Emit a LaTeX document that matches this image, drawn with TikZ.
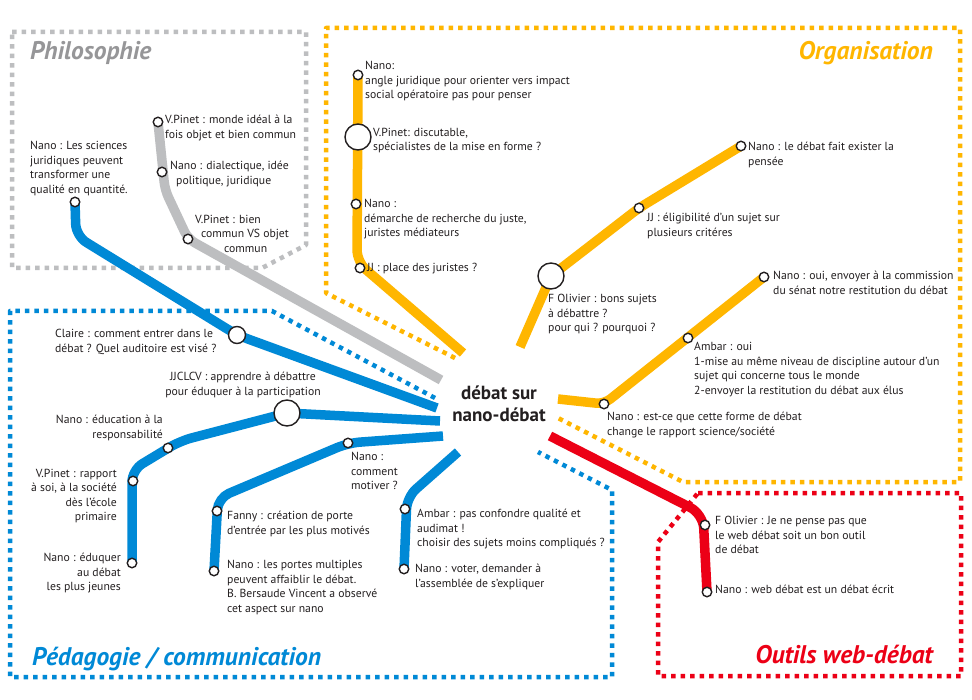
\documentclass[tikz,border=0pt]{standalone}
\usepackage{fontspec}
\setmainfont{PT Sans}
\definecolor{ink}{RGB}{35,31,32}
\definecolor{lblue}{RGB}{0,137,214}
\definecolor{lorange}{RGB}{255,182,0}
\definecolor{lred}{RGB}{236,0,22}
\definecolor{lgray}{RGB}{189,190,192}
\definecolor{tgray}{RGB}{150,150,152}

\begin{document}
\begin{tikzpicture}[x=1pt,y=-1pt,
  zone/.style={line width=4.5pt, dash pattern=on 4.5pt off 5pt, line join=round},
  metro/.style={line width=9.5pt, rounded corners=12pt},
  stop/.style={circle, draw=ink, fill=white, line width=1.4pt, inner sep=0pt, minimum size=9.5pt},
  midstop/.style={stop, minimum size=17pt},
  bigstop/.style={stop, minimum size=26pt},
  lab/.style={anchor=north west, align=left, inner sep=0pt, text=ink,
     font=\fontsize{11.7}{14.5}\selectfont, execute at begin node={\rule{0pt}{9pt}}},
  labr/.style={lab, anchor=north east, align=right},
  labc/.style={lab, anchor=north, align=center},
  zonetitle/.style={inner sep=0pt, font=\fontsize{25.5}{28}\selectfont\bfseries\itshape},
]
\useasboundingbox (0,0) rectangle (972,700);
\fill[white] (0,0) rectangle (972,700);

% ---- theme zones (dotted outlines) ----
\draw[zone, lgray] (12,32) -- (306,32) -- (306,245) -- (262,268) -- (12,268) -- cycle;
\draw[zone, lorange] (455,358) -- (326,293) -- (326,28) -- (960,28) -- (960,482) -- (683,482) -- (558,418);
\draw[zone, lblue] (435,398) -- (272,311) -- (10,311) -- (10,677) -- (612,677) -- (612,490) -- (538,452);
\draw[zone, lred] (698,493) -- (961,493) -- (961,676) -- (658,676) -- (658,542) -- cycle;

% ---- line coordinates ----
% grey line
\coordinate (gEnd) at (441,380);
\coordinate (p3) at (188,239);
\coordinate (gBend) at (165,190);
\coordinate (p2) at (162,172);
\coordinate (p1) at (158,122);
% blue lines
\coordinate (b1End) at (437,408);
\coordinate (b1a) at (237,335);
\coordinate (b1Bend) at (76,236);
\coordinate (b1b) at (75,202);
\coordinate (b2End) at (440,421);
\coordinate (b2a) at (287,413);
\coordinate (b2Bend1) at (180,441);
\coordinate (b2b) at (168,448);
\coordinate (b2Bend2) at (132,470);
\coordinate (b2c) at (133,481);
\coordinate (b2d) at (132,563);
\coordinate (b3End) at (443,436);
\coordinate (b3a) at (348,443);
\coordinate (b3Bend) at (218,498);
\coordinate (b3b) at (217,511);
\coordinate (b3c) at (214,571);
\coordinate (b4End) at (458,452);
\coordinate (b4Bend) at (407,497);
\coordinate (b4a) at (405,509);
\coordinate (b4b) at (404,569);
% orange lines
\coordinate (o1End) at (463,353);
\coordinate (o1Bend) at (357,262);
\coordinate (o1a) at (360,268);
\coordinate (o1b) at (356,204);
\coordinate (o1c) at (358,137);
\coordinate (o1d) at (358,75);
\coordinate (o2End) at (520,347);
\coordinate (o2a) at (551,276);
\coordinate (o2b) at (639,208);
\coordinate (o2c) at (741,146);
\coordinate (o3End) at (558,399);
\coordinate (o3a) at (604,404);
\coordinate (o3b) at (688,338);
\coordinate (o3c) at (764,277);
% red line
\coordinate (rEnd) at (550,436);
\coordinate (rBend) at (703,514);
\coordinate (ra) at (705,525);
\coordinate (rb) at (707,592);

% ---- lines ----
\draw[metro, lgray, rounded corners=8pt] (gEnd) -- (p3) -- (gBend) -- (p1);
\draw[metro, lblue] (b1End) -- (b1a) -- (b1Bend) -- (b1b);
\draw[metro, lblue] (b2End) -- (b2a) -- (b2Bend1) -- (b2Bend2) -- (b2d);
\draw[metro, lblue] (b3End) -- (b3a) -- (b3Bend) -- (b3c);
\draw[metro, lblue] (b4End) -- (b4Bend) -- (b4b);
\draw[metro, lorange] (o1End) -- (o1Bend) -- (o1d);
\draw[metro, lorange, rounded corners=8pt] (o2End) -- (o2a) -- (o2b) -- (o2c);
\draw[metro, lorange, rounded corners=8pt] (o3End) -- (o3a) -- (o3c);
\draw[metro, lred, rounded corners=14pt] (rEnd) -- (rBend) -- (rb);

% ---- stations ----
\node[stop] (sP1) at (p1) {};
\node[stop] (sP2) at (p2) {};
\node[stop] (sP3) at (p3) {};
\node[midstop] (sB1a) at (b1a) {};
\node[stop] (sB1b) at (b1b) {};
\node[bigstop] (sB2a) at (b2a) {};
\node[stop] (sB2b) at (b2b) {};
\node[stop] (sB2c) at (b2c) {};
\node[stop] (sB2d) at (b2d) {};
\node[stop] (sB3a) at (b3a) {};
\node[stop] (sB3b) at (b3b) {};
\node[stop] (sB3c) at (b3c) {};
\node[stop] (sB4a) at (b4a) {};
\node[stop] (sB4b) at (b4b) {};
\node[stop] (sO1a) at (o1a) {};
\node[stop] (sO1b) at (o1b) {};
\node[bigstop] (sO1c) at (o1c) {};
\node[stop] (sO1d) at (o1d) {};
\node[bigstop] (sO2a) at (o2a) {};
\node[stop] (sO2b) at (o2b) {};
\node[stop] (sO2c) at (o2c) {};
\node[stop] (sO3a) at (o3a) {};
\node[stop] (sO3b) at (o3b) {};
\node[stop] (sO3c) at (o3c) {};
\node[stop] (sRa) at (ra) {};
\node[stop] (sRb) at (rb) {};

% ---- hub ----
\node[font=\fontsize{19}{22}\selectfont\bfseries, align=center, text=ink, inner sep=0pt,
      anchor=north, execute at begin node={\rule{0pt}{14pt}}] (hub) at (499,386) {débat sur\\nano-débat};

% ---- zone titles ----
\node[zonetitle, text=tgray, anchor=base west] (tPhilo) at (30,60) {Philosophie};
\node[zonetitle, text=lorange, anchor=base east] (tOrga) at (933,60) {Organisation};
\node[zonetitle, text=lblue, anchor=base west] (tPeda) at (32,665) {Pédagogie / communication};
\node[zonetitle, text=lred, anchor=base east] (tWeb) at (933,663) {Outils web-débat};

% ---- labels: philosophie ----
\node[lab] (lP0) at (30,141) {Nano :  Les sciences\\juridiques peuvent\\transformer une\\qualité en quantité.};
\node[lab] (lP1) at (165,115) {V.Pinet : monde idéal à la\\fois objet et bien commun};
\node[lab] (lP2) at (170,161) {Nano : dialectique, idée\\\hspace*{6pt}politique, juridique};
\node[lab] (lP3) at (195,215) {V.Pinet :  bien\\\hspace*{6pt}commun VS objet\\\hspace*{29pt}commun};

% ---- labels: organisation ----
\node[lab] (lO1d) at (365,61) {Nano:\\angle juridique pour orienter vers impact\\social opératoire pas pour penser};
\node[lab] (lO1c) at (373,128) {V.Pinet: discutable,\\spécialistes de la mise en forme ?};
\node[lab] (lO1b) at (364,199) {Nano :\\démarche de recherche du juste,\\juristes médiateurs};
\node[lab] (lO1a) at (367,262) {JJ : place des juristes ?};
\node[lab] (lO2c) at (748,142) {Nano : le débat fait exister la\\pensée};
\node[lab] (lO2b) at (647,213) {JJ : éligibilité d'un sujet sur\\plusieurs critéres};
\node[lab] (lO2a) at (548,294) {F Olivier : bons sujets\\à débattre ?\\pour qui ? pourquoi ?};
\node[lab] (lO3c) at (773,271) {Nano : oui, envoyer à la commission\\du sénat notre restitution du débat};
\node[lab] (lO3b) at (694,342) {Ambar : oui\\1-mise au même niveau de discipline autour d'un\\sujet qui concerne tous le monde\\2-envoyer la restitution du débat aux élus};
\node[lab] (lO3a) at (607,412) {Nano : est-ce que cette forme de débat\\change le rapport science/société};

% ---- labels: pédagogie / communication ----
\node[lab] (lB1a) at (55,329) {Claire : comment entrer dans le\\débat ? Quel auditoire est visé ?};
\node[labc] (lB2a) at (243,372) {JJCLCV  : apprendre à débattre\\pour éduquer à la participation};
\node[labr] (lB2b) at (163,415) {Nano : éducation à la\\responsabilité};
\node[labr] (lB2c) at (117,469) {V.Pinet : rapport\\à soi, à la société\\dès l'école\\primaire};
\node[labr] (lB2d) at (121,553) {Nano : éduquer\\au débat\\les plus jeunes};
\node[lab] (lB3a) at (351,452) {Nano :\\comment\\motiver ?};
\node[lab] (lB3b) at (227,511) {Fanny : création de porte\\d'entrée par les plus motivés};
\node[lab] (lB3c) at (227,560) {Nano : les portes multiples\\peuvent affaiblir le débat.\\B. Bersaude Vincent a observé\\cet aspect sur nano};
\node[lab] (lB4a) at (417,509) {Ambar : pas confondre qualité et\\audimat !\\choisir des sujets moins compliqués ?};
\node[lab] (lB4b) at (415,564) {Nano : voter,  demander à\\l'assemblée de s'expliquer};

% ---- labels: outils web-débat ----
\node[lab] (lRa) at (715,516) {F Olivier : Je ne pense pas que\\le web débat soit un bon outil\\de débat};
\node[lab] (lRb) at (715,584) {Nano : web débat est un débat écrit};
\end{tikzpicture}
\end{document}
